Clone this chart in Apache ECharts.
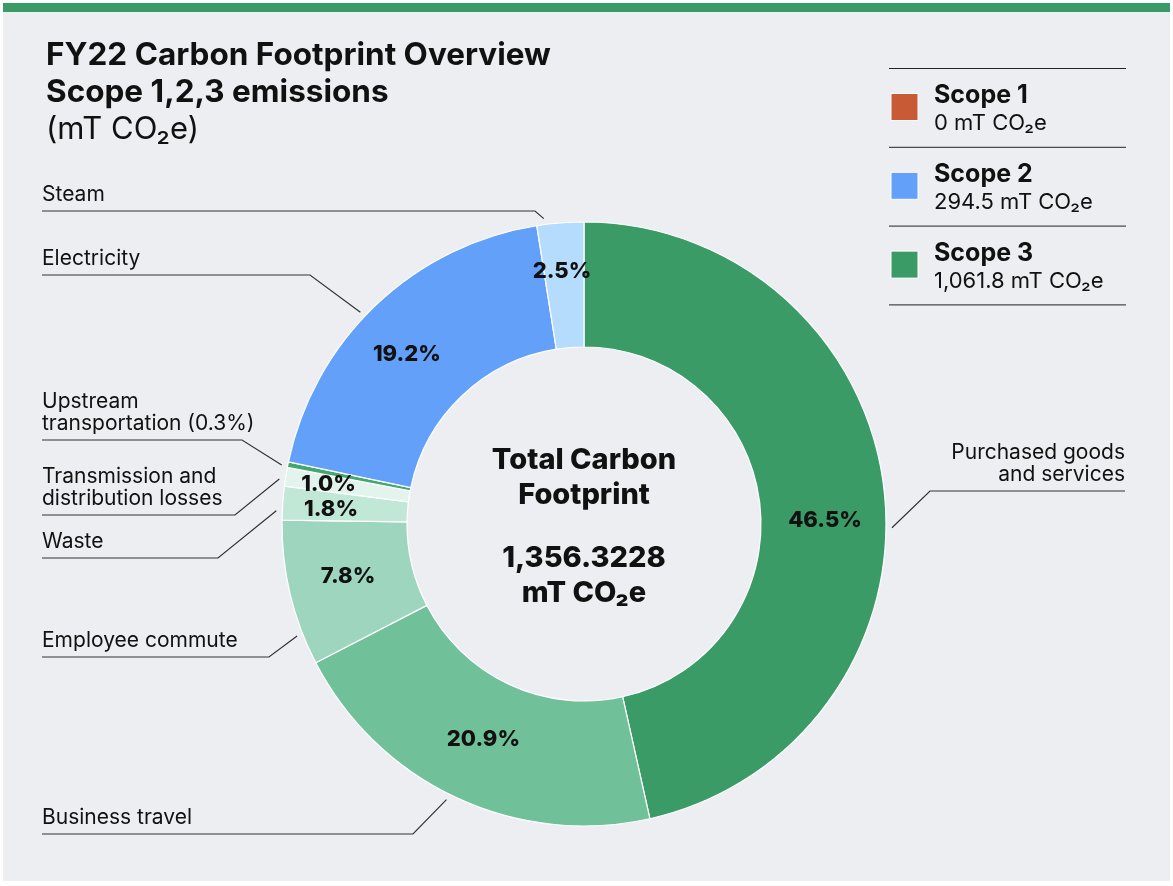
<!DOCTYPE html>
<html>
<head>
<meta charset="utf-8">
<title>FY22 Carbon Footprint Overview</title>
<script src="https://cdn.jsdelivr.net/npm/echarts@6/dist/echarts.min.js"></script>
<style>
  html, body { margin: 0; padding: 0; background: #ffffff; }
  #chart { width: 1173px; height: 886px; }
</style>
</head>
<body>
<div id="chart"></div>
<script>
// ---------------- DATA ----------------
const categories = [
  'Purchased goods and services',
  'Business travel',
  'Employee commute',
  'Waste',
  'Transmission and distribution losses',
  'Upstream transportation',
  'Electricity',
  'Steam'
];
const shares = [46.5, 20.9, 7.8, 1.8, 1.0, 0.3, 19.2, 2.5];   // % of total
const outsideLabels = [
  'Purchased goods\nand services',
  'Business travel',
  'Employee commute',
  'Waste',
  'Transmission and\ndistribution losses',
  'Upstream\ntransportation (0.3%)',
  'Electricity',
  'Steam'
];
const showInsideLabel = [true, true, true, true, true, false, true, true];

const scopeNames = ['Scope 1', 'Scope 2', 'Scope 3'];
const scopeValues = [0, 294.5, 1061.8];      // mT CO2e
const totalFootprint = 1356.3228;            // mT CO2e

// ---------------- STYLE ----------------
const sliceColors = ['#3A9B66', '#70C19A', '#9DD5BE', '#C1E7D6', '#E3F4EC', '#43A870', '#63A0FA', '#B5DCFC'];
const scopeColors = ['#C85A36', '#63A0FA', '#3A9B66'];
const FONT = 'Inter, "Liberation Sans", Arial, sans-serif';
const INK = '#111111';
const CX = 584, CY = 524, R_IN = 177, R_OUT = 302;

// leader-line layout (style only): underline y, elbow x, angle nudge (deg)
const leader = [
  { lineY: 491, elbowX: 930, endX: 1125, right: true, shift: 7 },
  { lineY: 834, elbowX: 413, shift: 1.5 },
  { lineY: 657, elbowX: 269, shift: -8 },
  { lineY: 558, elbowX: 218, shift: -1.5 },
  { lineY: 515, elbowX: 235, shift: -0.6 },
  { lineY: 440, elbowX: 242, shift: -0.3 },
  { lineY: 275, elbowX: 310, shift: -3 },
  { lineY: 211, elbowX: 535, shift: -3 }
];
// inside label nudges (style only)
const insideNudge = [[0, 23], [2, -4], [0, -3], [-11, 2], [-16, -2], [0, 0], [-10, 6], [-3, -11]];

const total = shares.reduce((a, b) => a + b, 0);
function midAngle(i) {
  let before = 0;
  for (let k = 0; k < i; k++) before += shares[k];
  return (before + shares[i] / 2) / total * 360;
}

const chart = echarts.init(document.getElementById('chart'), null, { renderer: 'canvas' });

const fmt = (v, d) => v.toLocaleString('en-US', { maximumFractionDigits: d });

// legend graphics (built from scope arrays)
const legendGraphics = [];
const LX = 889, LW = 237, LY0 = 68.5, LSTEP = 78.8;
for (let i = 0; i <= scopeNames.length; i++) {
  legendGraphics.push({
    type: 'line', silent: true,
    shape: { x1: LX, y1: LY0 + LSTEP * i, x2: LX + LW, y2: LY0 + LSTEP * i },
    style: { stroke: '#222', lineWidth: 1 }
  });
}
scopeNames.forEach((n, i) => {
  const top = LY0 + LSTEP * i;
  legendGraphics.push({
    type: 'rect', silent: true,
    shape: { x: 891, y: top + 25, width: 27, height: 27 },
    style: { fill: scopeColors[i], stroke: '#fff', lineWidth: 1 }
  });
  legendGraphics.push({
    type: 'text', silent: true, x: 934, y: top + 27,
    style: { text: n, fill: INK, font: 'bold 25px ' + FONT, textVerticalAlign: 'middle', textAlign: 'left' }
  });
  legendGraphics.push({
    type: 'text', silent: true, x: 934, y: top + 55,
    style: { text: fmt(scopeValues[i], 1) + ' mT CO\u2082e', fill: INK, font: '22px ' + FONT, textVerticalAlign: 'middle', textAlign: 'left' }
  });
});

const CF = '800 29px ' + FONT;
const centerGraphics = [
  { type: 'text', silent: true, x: CX, y: 460, style: { text: 'Total Carbon', fill: INK, font: CF, textAlign: 'center', textVerticalAlign: 'middle' } },
  { type: 'text', silent: true, x: CX, y: 495, style: { text: 'Footprint', fill: INK, font: CF, textAlign: 'center', textVerticalAlign: 'middle' } },
  { type: 'text', silent: true, x: CX, y: 558, style: { text: fmt(totalFootprint, 4), fill: INK, font: CF, textAlign: 'center', textVerticalAlign: 'middle' } },
  { type: 'text', silent: true, x: CX, y: 593, style: { text: 'mT CO\u2082e', fill: INK, font: CF, textAlign: 'center', textVerticalAlign: 'middle' } }
];

const pieData = categories.map((c, i) => ({ name: c, value: shares[i] }));

const option = {
  backgroundColor: '#ffffff',
  animation: false,
  textStyle: { fontFamily: FONT },
  title: {
    left: 41, top: 32,
    text: 'FY22 Carbon Footprint Overview\nScope 1,2,3 emissions',
    textStyle: { fontSize: 31.5, fontWeight: 'bold', color: INK, lineHeight: 37, fontFamily: FONT },
    subtext: '(mT CO\u2082e)',
    subtextStyle: { fontSize: 31, color: INK, lineHeight: 37, fontFamily: FONT },
    itemGap: 0
  },
  graphic: [
    { type: 'rect', silent: true, z: -10, shape: { x: 3, y: 3, width: 1167, height: 878 }, style: { fill: '#ECEEF2' } },
    { type: 'rect', silent: true, z: -9, shape: { x: 3, y: 3, width: 1167, height: 9 }, style: { fill: '#3A9B66' } }
  ].concat(legendGraphics, centerGraphics),
  series: [
    {
      type: 'pie',
      silent: true,
      center: [CX, CY],
      radius: [R_IN, R_OUT],
      startAngle: 90,
      clockwise: true,
      avoidLabelOverlap: false,
      data: pieData.map((d, i) => ({ ...d, itemStyle: { color: sliceColors[i] } })),
      itemStyle: { borderColor: '#ffffff', borderWidth: 1.2 },
      label: {
        show: true,
        position: 'inside',
        formatter: p => showInsideLabel[p.dataIndex] ? shares[p.dataIndex].toFixed(1) + '%' : '',
        color: INK, fontSize: 22, fontWeight: 800, fontFamily: FONT
      },
      labelLine: { show: false },
      labelLayout: p => ({ dx: insideNudge[p.dataIndex][0], dy: insideNudge[p.dataIndex][1] }),
      emphasis: { disabled: true }
    },
    {
      type: 'pie',
      silent: true,
      center: [CX, CY],
      radius: [R_IN, R_OUT],
      startAngle: 90,
      clockwise: true,
      avoidLabelOverlap: false,
      data: pieData,
      itemStyle: { color: 'rgba(0,0,0,0)', borderWidth: 0 },
      label: {
        show: true,
        position: 'outside',
        formatter: p => outsideLabels[p.dataIndex],
        color: INK, fontSize: 21, lineHeight: 22, fontFamily: FONT
      },
      labelLine: { show: true, length: 10, length2: 10, lineStyle: { color: '#333', width: 1.2 } },
      labelLayout: p => {
        const i = p.dataIndex;
        const L = leader[i];
        const th = (midAngle(i) + L.shift) * Math.PI / 180;
        const ax = CX + 308 * Math.sin(th);
        const ay = CY - 308 * Math.cos(th);
        if (L.right) {
          return {
            x: L.endX, y: L.lineY - 5, align: 'right', verticalAlign: 'bottom',
            labelLinePoints: [[ax, ay], [L.elbowX, L.lineY], [L.endX, L.lineY]]
          };
        }
        return {
          x: 42, y: L.lineY - 5, align: 'left', verticalAlign: 'bottom',
          labelLinePoints: [[ax, ay], [L.elbowX, L.lineY], [42, L.lineY]]
        };
      },
      emphasis: { disabled: true }
    }
  ]
};
chart.setOption(option);
</script>
</body>
</html>
